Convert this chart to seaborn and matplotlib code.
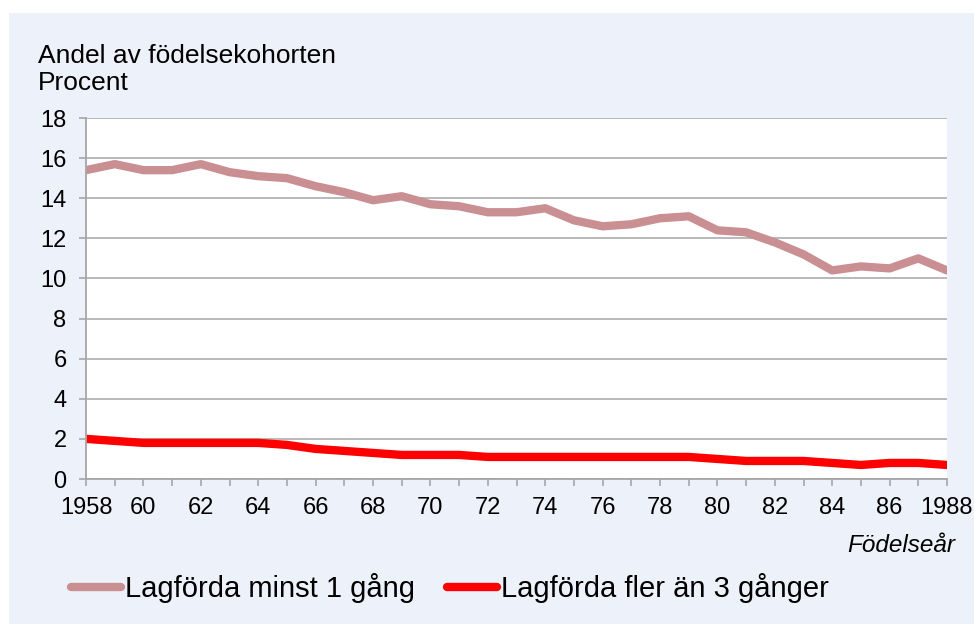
import pandas as pd
import matplotlib.pyplot as plt
import seaborn as sns
from matplotlib.patches import Rectangle
from matplotlib.lines import Line2D

years = list(range(1958, 1989))
minst_1 = [15.4, 15.7, 15.4, 15.4, 15.7, 15.3, 15.1, 15.0, 14.6, 14.3,
           13.9, 14.1, 13.7, 13.6, 13.3, 13.3, 13.5, 12.9, 12.6, 12.7,
           13.0, 13.1, 12.4, 12.3, 11.8, 11.2, 10.4, 10.6, 10.5, 11.0, 10.4]
fler_3 = [2.0, 1.9, 1.8, 1.8, 1.8, 1.8, 1.8, 1.7, 1.5, 1.4,
          1.3, 1.2, 1.2, 1.2, 1.1, 1.1, 1.1, 1.1, 1.1, 1.1,
          1.1, 1.1, 1.0, 0.9, 0.9, 0.9, 0.8, 0.7, 0.8, 0.8, 0.7]
series_names = ["Lagförda minst 1 gång", "Lagförda fler än 3 gånger"]
yticks = list(range(0, 19, 2))
xticklabels = ["1958"] + [str(y % 100) if y % 2 == 0 else "" for y in years[1:-1]] + ["1988"]

df = pd.DataFrame({
    "year": years * 2,
    "value": minst_1 + fler_3,
    "serie": [series_names[0]] * len(years) + [series_names[1]] * len(years),
})

sns.set_style("white")
plt.rcParams["font.family"] = ["Liberation Sans", "DejaVu Sans"]
plt.rcParams["text.color"] = "black"

bg = "#EDF1F9"
grey = "#A6A6A6"
colors = ["#C98F93", "#FF0000"]
fig = plt.figure(figsize=(9.74, 6.24), dpi=100, facecolor="white")
fig.patches.append(Rectangle((9 / 974, 0), 1, 1 - 13 / 624, transform=fig.transFigure,
                             facecolor=bg, edgecolor="none", zorder=-10))
ax = fig.add_axes([86 / 974, 1 - 479 / 624, (947 - 86) / 974, (479 - 118) / 624])
ax.set_facecolor("white")

sns.lineplot(data=df, x="year", y="value", hue="serie",
             palette=colors, linewidth=6, ax=ax,
             legend=False, solid_capstyle="round")

ax.set_xlim(1958, 1988)
ax.set_ylim(0, 18)
ax.set_yticks(yticks)
ax.set_xticks(years)
ax.set_xticklabels(xticklabels)
ax.yaxis.grid(True, color="#B3B3B3", linewidth=1.3)
ax.set_axisbelow(True)
for s in ["top", "right"]:
    ax.spines[s].set_visible(False)
for s in ["left", "bottom"]:
    ax.spines[s].set_color(grey)
    ax.spines[s].set_linewidth(1.3)
ax.tick_params(axis="both", which="both", direction="out", length=5,
               color=grey, width=1.2, labelsize=17, labelcolor="black")
ax.tick_params(axis="y", pad=9, left=True)
ax.tick_params(axis="x", pad=8, bottom=True)
ax.set_xlabel("")
ax.set_ylabel("")

fig.text(38 / 974, 1 - 56 / 624, "Andel av födelsekohorten", fontsize=19, va="center")
fig.text(38 / 974, 1 - 83 / 624, "Procent", fontsize=19, va="center")
fig.text(955 / 974, 1 - 545 / 624, "Födelseår", fontsize=17.5, style="italic",
         ha="right", va="center")

handles = [Line2D([], [], color=c, linewidth=6, solid_capstyle="round") for c in colors]
fig.legend(handles, series_names, loc="center left",
           bbox_to_anchor=(71 / 974, 1 - 588 / 624), ncol=2, frameon=False,
           fontsize=21, handlelength=1.7, handletextpad=0.15, columnspacing=1.1,
           borderpad=0, borderaxespad=0)

fig.savefig("out.png", dpi=100, facecolor=fig.get_facecolor())
